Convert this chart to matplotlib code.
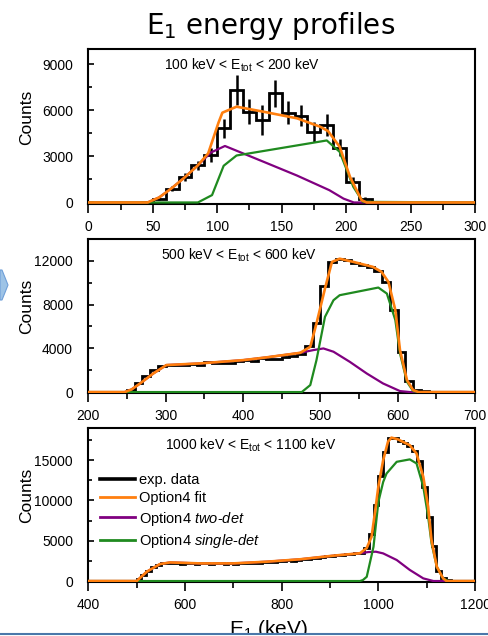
import matplotlib

matplotlib.use("Agg")
import matplotlib.pyplot as plt
from matplotlib.lines import Line2D
from matplotlib.patches import Polygon, Rectangle
from matplotlib.ticker import MultipleLocator

plt.rcParams["font.family"] = ["Liberation Sans", "DejaVu Sans"]
plt.rcParams["mathtext.fontset"] = "custom"
plt.rcParams["mathtext.rm"] = "Liberation Sans"
plt.rcParams["mathtext.it"] = "Liberation Sans:italic"

BLACK, ORANGE, PURPLE, GREEN = "#000000", "#ff7f0e", "#800080", "#1f8a1f"

# --- 100 keV < Etot < 200 keV ---------------------------------------------
H1_EDGES = [40, 50, 60, 70, 80, 90, 100, 110, 120, 130, 140, 150, 160,
            170, 180, 190, 200, 210, 220, 230, 240]
H1_COUNTS = [0, 250, 900, 1650, 2420, 3080, 4830, 7330, 5910, 5370, 7100,
             5850, 5650, 4600, 5050, 3560, 1350, 230, 60, 0]
H1_ERR = [0, 120, 180, 240, 300, 450, 600, 950, 800, 950, 900, 750, 700,
          650, 700, 550, 300, 120, 50, 0]

FIT1_X = [0, 46, 55, 65, 75, 85, 93, 97, 101, 104, 115, 136, 162, 180,
          186, 195, 203, 212, 216, 300]
FIT1_Y = [0, 0, 330, 950, 1650, 2420, 3200, 4200, 5200, 5850, 6240, 5910,
          5480, 4930, 4650, 3630, 1670, 150, 0, 0]
TWO1_X = [0, 46, 55, 65, 75, 85, 95, 106, 136, 162, 187, 198, 206, 300]
TWO1_Y = [0, 0, 330, 950, 1650, 2420, 3250, 3680, 2650, 1750, 800, 250, 0, 0]
ONE1_X = [0, 85, 96, 105, 115, 185, 195, 205.6, 213, 300]
ONE1_Y = [0, 0, 480, 2390, 3060, 4040, 3300, 1020, 40, 0]

# --- 500 keV < Etot < 600 keV ---------------------------------------------
H2_EDGES = [240, 250, 260, 270, 280, 290, 300, 310, 320, 330, 340, 350, 360,
            370, 380, 390, 400, 410, 420, 430, 440, 450, 460, 470, 480, 490,
            500, 510, 520, 530, 540, 550, 560, 570, 580, 590, 600, 610, 620,
            630, 640, 650, 660]
H2_COUNTS = [0, 200, 800, 1500, 2000, 2350, 2450, 2450, 2500, 2550, 2500,
             2750, 2650, 2650, 2700, 2800, 2900, 2850, 3150, 3000, 3050, 3200,
             3300, 3450, 4200, 6300, 9700, 11900, 12150, 12050, 11800, 11600,
             11400, 11100, 10100, 7500, 3700, 1000, 200, 60, 30, 0]

FIT2_X = [200, 247, 256, 267, 284, 301, 344, 400, 430, 474, 487, 495, 506,
          515, 525, 543, 568, 579, 588, 597, 603, 612, 620, 627, 700]
FIT2_Y = [0, 0, 240, 790, 1700, 2470, 2620, 2920, 3170, 3590, 4140, 6270,
          9470, 11900, 12200, 11900, 11450, 11000, 10080, 7490, 3840, 1100,
          180, 0, 0]
TWO2_X = [200, 247, 256, 267, 284, 301, 344, 400, 430, 474, 491, 504, 517,
          538, 560, 581, 603, 616, 700]
TWO2_Y = [0, 0, 240, 790, 1700, 2470, 2620, 2920, 3170, 3590, 3840, 3990,
          3690, 2770, 1700, 790, 90, 0, 0]
ONE2_X = [200, 476, 487, 495, 506, 517, 525, 575, 586, 597, 603, 612, 620,
          627, 700]
ONE2_Y = [0, 0, 640, 2920, 6880, 8400, 8860, 9560, 9010, 6580, 3530, 940,
          90, 0, 0]

# --- 1000 keV < Etot < 1100 keV -------------------------------------------
H3_EDGES = [490, 500, 510, 520, 530, 540, 550, 560, 570, 580, 590, 600, 610,
            620, 630, 640, 650, 660, 670, 680, 690, 700, 710, 720, 730, 740,
            750, 760, 770, 780, 790, 800, 810, 820, 830, 840, 850, 860, 870,
            880, 890, 900, 910, 920, 930, 940, 950, 960, 970, 980, 990, 1000,
            1010, 1020, 1030, 1040, 1050, 1060, 1070, 1080, 1090, 1100, 1110,
            1120, 1130, 1140, 1150, 1160]
H3_COUNTS = [0, 300, 800, 1300, 1700, 2000, 2200, 2300, 2250, 2200, 2150,
             2200, 2250, 2150, 2250, 2200, 2150, 2200, 2200, 2150, 2200, 2150,
             2200, 2250, 2200, 2300, 2250, 2350, 2400, 2350, 2450, 2500, 2550,
             2500, 2650, 2750, 2700, 2850, 2900, 3000, 3050, 3100, 3200, 3250,
             3350, 3300, 3450, 3500, 4100, 5800, 9500, 13000, 16000, 17700,
             17700, 17400, 17100, 16800, 16200, 14900, 11700, 8000, 4300,
             1300, 400, 100, 0]

FIT3_X = [400, 500, 521, 548, 569, 631, 700, 769, 838, 907, 962, 976, 986,
          993, 1000, 1010, 1020, 1027, 1040, 1065, 1079, 1093, 1103, 1110,
          1121, 1134, 1141, 1200]
FIT3_Y = [0, 0, 1160, 2100, 2310, 2190, 2190, 2400, 2700, 3150, 3450, 4100,
          5500, 8500, 11700, 15000, 17300, 17800, 17600, 16860, 15830, 12930,
          9210, 5080, 1770, 330, 0, 0]
TWO3_X = [400, 500, 521, 548, 569, 631, 700, 769, 838, 907, 962, 980, 995,
          1010, 1038, 1065, 1093, 1114, 1200]
TWO3_Y = [0, 0, 1160, 2100, 2310, 2190, 2190, 2400, 2700, 3150, 3450, 3600,
          3640, 3430, 2610, 1380, 330, 0, 0]
ONE3_X = [400, 962, 968, 976, 990, 1000, 1010, 1017, 1038, 1065, 1079, 1093,
          1103, 1110, 1121, 1134, 1145, 1200]
ONE3_Y = [0, 0, 120, 530, 4250, 9800, 12300, 13350, 14800, 15100, 14600,
          11700, 8000, 4700, 1770, 330, 0, 0]

PANELS = [
    dict(rect=[0.1806, 0.679, 0.7908, 0.244], xlim=(0, 300), ylim=(-110, 10000),
         xmaj=50, ymaj=3000, edges=H1_EDGES, counts=H1_COUNTS, err=H1_ERR,
         fit=(FIT1_X, FIT1_Y), two=(TWO1_X, TWO1_Y), one=(ONE1_X, ONE1_Y),
         label=r"100 keV < $\mathregular{E_{tot}}$ < 200 keV", lx=0.397, ly=0.865),
    dict(rect=[0.1806, 0.382, 0.7908, 0.2422], xlim=(200, 700), ylim=(-90, 14000),
         xmaj=100, ymaj=4000, edges=H2_EDGES, counts=H2_COUNTS, err=None,
         fit=(FIT2_X, FIT2_Y), two=(TWO2_X, TWO2_Y), one=(ONE2_X, ONE2_Y),
         label=r"500 keV < $\mathregular{E_{tot}}$ < 600 keV", lx=0.39, ly=0.864),
    dict(rect=[0.1806, 0.0849, 0.7908, 0.2422], xlim=(400, 1200), ylim=(-120, 19000),
         xmaj=200, ymaj=5000, edges=H3_EDGES, counts=H3_COUNTS, err=None,
         fit=(FIT3_X, FIT3_Y), two=(TWO3_X, TWO3_Y), one=(ONE3_X, ONE3_Y),
         label=r"1000 keV < $\mathregular{E_{tot}}$ < 1100 keV", lx=0.419, ly=0.857),
]

fig = plt.figure(figsize=(4.89, 6.36), dpi=100)

axes = []
for p in PANELS:
    ax = fig.add_axes(p["rect"])
    ax.stairs(p["counts"], p["edges"], color=BLACK, lw=2.0, baseline=None, zorder=2)
    if p["err"] is not None:
        centers = [(a + b) / 2 for a, b in zip(p["edges"][:-1], p["edges"][1:])]
        ax.errorbar(centers, p["counts"], yerr=p["err"], fmt="none",
                    ecolor=BLACK, elinewidth=1.8, capsize=0, zorder=2)
    ax.plot(*p["two"], color=PURPLE, lw=1.6, zorder=3)
    ax.plot(*p["one"], color=GREEN, lw=1.6, zorder=3)
    ax.plot(*p["fit"], color=ORANGE, lw=1.9, zorder=4)

    ax.set_xlim(*p["xlim"])
    ax.set_ylim(*p["ylim"])
    ax.xaxis.set_major_locator(MultipleLocator(p["xmaj"]))
    ax.xaxis.set_minor_locator(MultipleLocator(p["xmaj"] / 2))
    ax.yaxis.set_major_locator(MultipleLocator(p["ymaj"]))
    ax.yaxis.set_minor_locator(MultipleLocator(p["ymaj"] / 2))
    ax.tick_params(axis="x", which="both", direction="out", top=False,
                   labelsize=10, pad=5, width=1.2)
    ax.tick_params(axis="x", which="major", length=6.5)
    ax.tick_params(axis="x", which="minor", length=4)
    ax.tick_params(axis="y", which="both", direction="in", right=False,
                   labelsize=10, pad=11, width=1.2)
    ax.tick_params(axis="y", which="major", length=4)
    ax.tick_params(axis="y", which="minor", length=3)
    for s in ax.spines.values():
        s.set_linewidth(1.5)

    ax.set_ylabel("Counts", fontsize=12.5)
    ax.yaxis.set_label_coords(-0.14, 0.56)
    ax.text(p["lx"], p["ly"], p["label"], transform=ax.transAxes,
            ha="center", va="baseline", fontsize=10)
    axes.append(ax)

ax3 = axes[2]
handles = [
    Line2D([], [], color=BLACK, lw=2.6),
    Line2D([], [], color=ORANGE, lw=2.0),
    Line2D([], [], color=PURPLE, lw=2.0),
    Line2D([], [], color=GREEN, lw=2.0),
]
labels = ["exp. data", "Option4 fit", r"Option4 $\mathit{two}$-$\mathit{det}$",
          r"Option4 $\mathit{single}$-$\mathit{det}$"]
ax3.legend(handles, labels, loc="upper left", bbox_to_anchor=(0.03, 0.705),
           frameon=False, fontsize=10.5, handlelength=2.4, handletextpad=0.3,
           labelspacing=0.28, borderpad=0, borderaxespad=0)
ax3.set_xlabel(r"$\mathregular{E_1}$ (keV)", fontsize=15)
ax3.xaxis.set_label_coords(0.465, -0.234)

fig.text(0.554, 0.947, r"$\mathregular{E_1}$ energy profiles",
         family="DejaVu Sans", fontsize=20, ha="center", va="baseline")

# slide furniture: arrow tab on the left edge and rule along the bottom
W, H = 489, 636
tab = [(0, 270), (2, 270), (8, 285), (2, 300), (0, 300)]
fig.add_artist(Polygon([(x / W, 1 - y / H) for x, y in tab], closed=True,
                       transform=fig.transFigure, fc="#9dc3e6", ec="#6f9fd8", lw=0.8))
fig.add_artist(Rectangle((0, 0), 1, 3 / H, transform=fig.transFigure,
                         fc="white", ec="none", zorder=10))
fig.add_artist(Line2D([0, 1], [2.2 / H, 2.2 / H], transform=fig.transFigure,
                      color="#4a78aa", lw=1.5, zorder=11))

fig.savefig("out.png", dpi=100)
